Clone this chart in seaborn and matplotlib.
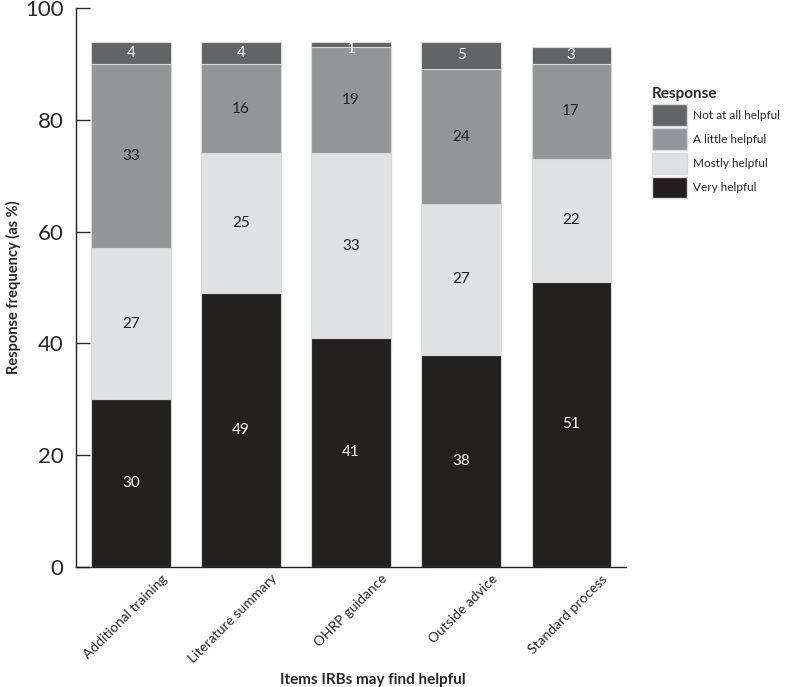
import numpy as np
import pandas as pd
import matplotlib
matplotlib.use('Agg')
import matplotlib.pyplot as plt
import matplotlib.transforms as mtransforms
import seaborn as sns
from matplotlib.patches import Patch

# Data
items = ['Additional training', 'Literature summary', 'OHRP guidance', 'Outside advice', 'Standard process']
very_helpful = [30, 49, 41, 38, 51]
mostly_helpful = [27, 25, 33, 27, 22]
little_helpful = [33, 16, 19, 24, 17]
not_helpful = [4, 4, 1, 5, 3]

responses = ['Very helpful', 'Mostly helpful', 'A little helpful', 'Not at all helpful']
colors = ['#231f20', '#e0e1e2', '#939598', '#636466']
text_colors = ['white', '#231f20', '#231f20', 'white']

df = pd.DataFrame({
    'item': items,
    'Very helpful': very_helpful,
    'Mostly helpful': mostly_helpful,
    'A little helpful': little_helpful,
    'Not at all helpful': not_helpful,
})

sns.set_style('white')
plt.rcParams['font.family'] = ['Lato', 'DejaVu Sans']

fig = plt.figure(figsize=(7.87, 6.87), dpi=100)
ax = fig.add_axes([0.0966, 0.1747, 0.699, 0.8137])

bottom = np.zeros(len(items))
for resp, col, tcol in zip(responses, colors, text_colors):
    vals = df[resp].to_numpy()
    sns.barplot(data=df, x='item', y=resp, color=col, bottom=bottom, width=0.72,
                edgecolor='#d8d8d8', linewidth=0.8, ax=ax)
    for i, v in enumerate(vals):
        # very thin segments: label sits just under the top edge
        ypos = bottom[i] + v / 2 if v > 1 else bottom[i] + v - 1.3
        ax.text(i, ypos, str(v), ha='center', va='center', fontsize=11, color=tcol)
    bottom = bottom + vals

ax.set_ylim(0, 100)
ax.set_xlim(-0.5, 4.5)
ax.set_yticks([0, 20, 40, 60, 80, 100])
ax.tick_params(axis='y', direction='in', length=10, width=1, labelsize=16, pad=9, left=True)
ax.tick_params(axis='x', length=0, labelsize=10, pad=4)
offset = mtransforms.ScaledTranslation(0.3, 0, fig.dpi_scale_trans)
for lab in ax.get_xticklabels():
    lab.set_rotation(45)
    lab.set_ha('right')
    lab.set_rotation_mode('anchor')
    lab.set_transform(lab.get_transform() + offset)
for side in ['top', 'right']:
    ax.spines[side].set_visible(False)
for side in ['left', 'bottom']:
    ax.spines[side].set_color('#231f20')
    ax.spines[side].set_linewidth(1.0)

ax.set_ylabel('Response frequency (as %)', fontsize=10.5, fontweight='bold')
ax.yaxis.set_label_coords(-0.1, 0.5)
ax.set_xlabel('Items IRBs may find helpful', fontsize=11, fontweight='bold')
ax.xaxis.set_label_coords(0.54, -0.19)

handles = [Patch(facecolor=c, edgecolor='#d8d8d8', label=r) for r, c in zip(responses, colors)][::-1]
leg = fig.legend(handles=handles, loc='upper left', bbox_to_anchor=(0.818, 0.885), frameon=False,
                 title='Response', fontsize=8.5, handlelength=3.0, handleheight=2.4,
                 handletextpad=0.5, labelspacing=0.25, alignment='left', borderpad=0.2)
leg.get_title().set_fontweight('bold')
leg.get_title().set_fontsize(11)

fig.savefig('out.png', dpi=100)
